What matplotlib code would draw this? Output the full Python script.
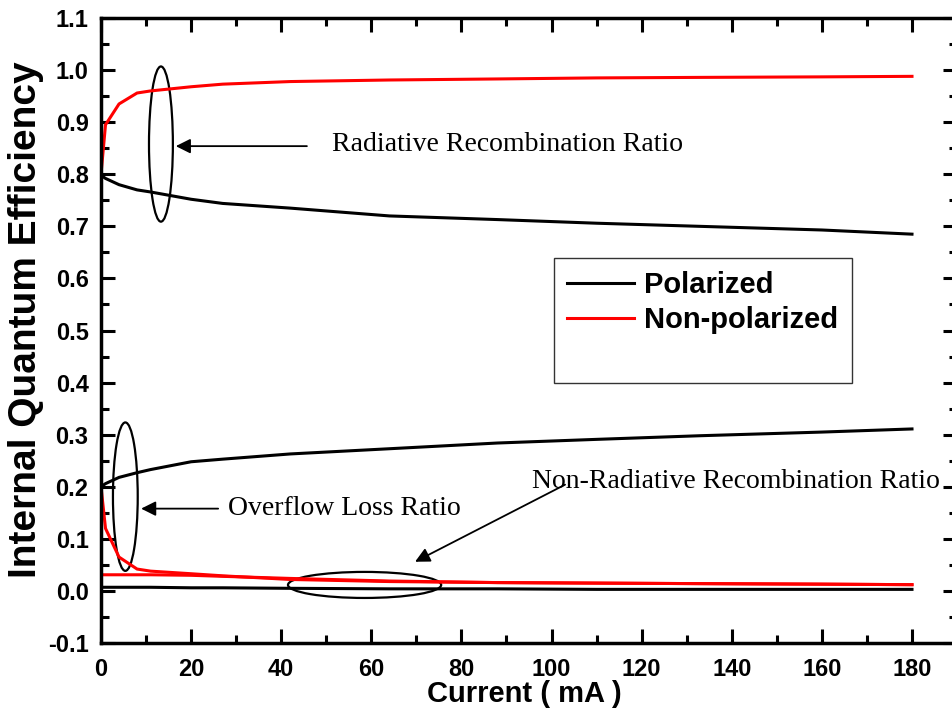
import matplotlib
matplotlib.use("Agg")
import matplotlib.pyplot as plt
from matplotlib.patches import Ellipse
from matplotlib.lines import Line2D
from matplotlib.ticker import MultipleLocator

# Current (mA) sample points
cur = [0, 1, 4, 8, 11, 20, 27, 42, 64, 88, 110, 133, 160, 180]

# Radiative recombination ratio
rad_pol = [0.798, 0.792, 0.780, 0.770, 0.766, 0.752, 0.744, 0.735, 0.720, 0.713, 0.706, 0.700, 0.693, 0.685]
rad_non = [0.800, 0.895, 0.935, 0.956, 0.960, 0.968, 0.973, 0.978, 0.981, 0.983, 0.985, 0.986, 0.987, 0.988]

# Overflow loss ratio
ovf_pol = [0.200, 0.206, 0.218, 0.227, 0.233, 0.248, 0.253, 0.263, 0.273, 0.284, 0.291, 0.298, 0.305, 0.311]
ovf_non = [0.200, 0.120, 0.065, 0.042, 0.038, 0.033, 0.029, 0.022, 0.018, 0.016, 0.015, 0.014, 0.013, 0.012]

# Non-radiative recombination ratio
nrr_pol = [0.007, 0.007, 0.007, 0.007, 0.007, 0.006, 0.006, 0.005, 0.004, 0.004, 0.003, 0.003, 0.003, 0.003]
nrr_non = [0.031, 0.031, 0.031, 0.031, 0.031, 0.030, 0.028, 0.024, 0.019, 0.016, 0.015, 0.014, 0.013, 0.012]

xticks = list(range(0, 181, 20))

fig = plt.figure(figsize=(9.52, 7.12), dpi=100)
ax = fig.add_axes([0.1061, 0.0969, 0.8992, 0.8778])

lw = 2.2
ax.plot(cur, rad_pol, color="black", lw=lw)
ax.plot(cur, ovf_pol, color="black", lw=lw)
ax.plot(cur, nrr_pol, color="black", lw=lw)
ax.plot(cur, rad_non, color="red", lw=lw)
ax.plot(cur, ovf_non, color="red", lw=lw)
ax.plot(cur, nrr_non, color="red", lw=lw)

ax.set_xlim(0, 190)
ax.set_ylim(-0.1, 1.1)
ax.set_xticks(xticks)
ax.set_xticklabels([str(v) for v in xticks])
ax.xaxis.set_minor_locator(MultipleLocator(10))
ax.yaxis.set_major_locator(MultipleLocator(0.1))
ax.yaxis.set_minor_locator(MultipleLocator(0.05))
ax.yaxis.set_major_formatter(plt.FuncFormatter(lambda v, p: f"{v:.1f}"))

ax.tick_params(which="both", direction="in", top=True, right=True, width=2.2)
ax.tick_params(which="major", length=10)
ax.tick_params(which="minor", length=6)
ax.tick_params(axis="x", pad=11)
ax.tick_params(axis="y", pad=9)
for s in ax.spines.values():
    s.set_linewidth(2.5)
for lab in ax.get_xticklabels() + ax.get_yticklabels():
    lab.set_fontfamily("Liberation Sans")
    lab.set_fontweight("bold")
    lab.set_fontsize(17)

ax.set_xlabel("Current ( mA )", fontfamily="Liberation Sans", fontweight="bold", fontsize=21)
ax.set_ylabel("Internal Quantum Efficiency", fontfamily="Liberation Sans", fontweight="bold", fontsize=28)
ax.xaxis.label.set_va("center")
ax.yaxis.label.set_va("center")
ax.xaxis.set_label_coords(0.495, -0.0816)
ax.yaxis.set_label_coords(-0.0876, 0.517)

# ellipses and arrows
ell_kw = dict(fill=False, edgecolor="black", lw=1.6)
ax.add_patch(Ellipse((13.3, 0.858), 5.3, 0.298, **ell_kw))
ax.add_patch(Ellipse((5.4, 0.181), 5.5, 0.285, **ell_kw))
ax.add_patch(Ellipse((58.5, 0.0115), 34, 0.05, **ell_kw))

arr = dict(arrowstyle="-|>", color="black", lw=1.3, mutation_scale=22, shrinkA=0, shrinkB=0)
tfont = dict(fontfamily="Liberation Serif", fontsize=20, va="center", ha="left")
ax.annotate("", xy=(16.6, 0.854), xytext=(45.7, 0.854), arrowprops=arr)
ax.text(51.3, 0.857, "Radiative Recombination Ratio", **tfont)
ax.annotate("", xy=(8.9, 0.158), xytext=(26.0, 0.158), arrowprops=arr)
ax.text(28.2, 0.158, "Overflow Loss Ratio", **tfont)
ax.annotate("", xy=(69.7, 0.056), xytext=(103.0, 0.204), arrowprops=arr)
ax.text(95.7, 0.21, "Non-Radiative Recombination Ratio", **tfont)

handles = [Line2D([], [], color="black", lw=lw),
           Line2D([], [], color="red", lw=lw),
           Line2D([], [], color="none")]
leg = ax.legend(handles, ["Polarized", "Non-polarized", " "],
                loc="upper left", bbox_to_anchor=(0.529, 0.616),
                prop={"family": "Liberation Sans", "weight": "bold", "size": 21},
                frameon=True, fancybox=False, edgecolor="black",
                handlelength=2.3, handletextpad=0.35, labelspacing=0.25,
                borderpad=0.45, borderaxespad=0)
leg.get_frame().set_linewidth(1.0)

fig.savefig("out.png", dpi=100)
